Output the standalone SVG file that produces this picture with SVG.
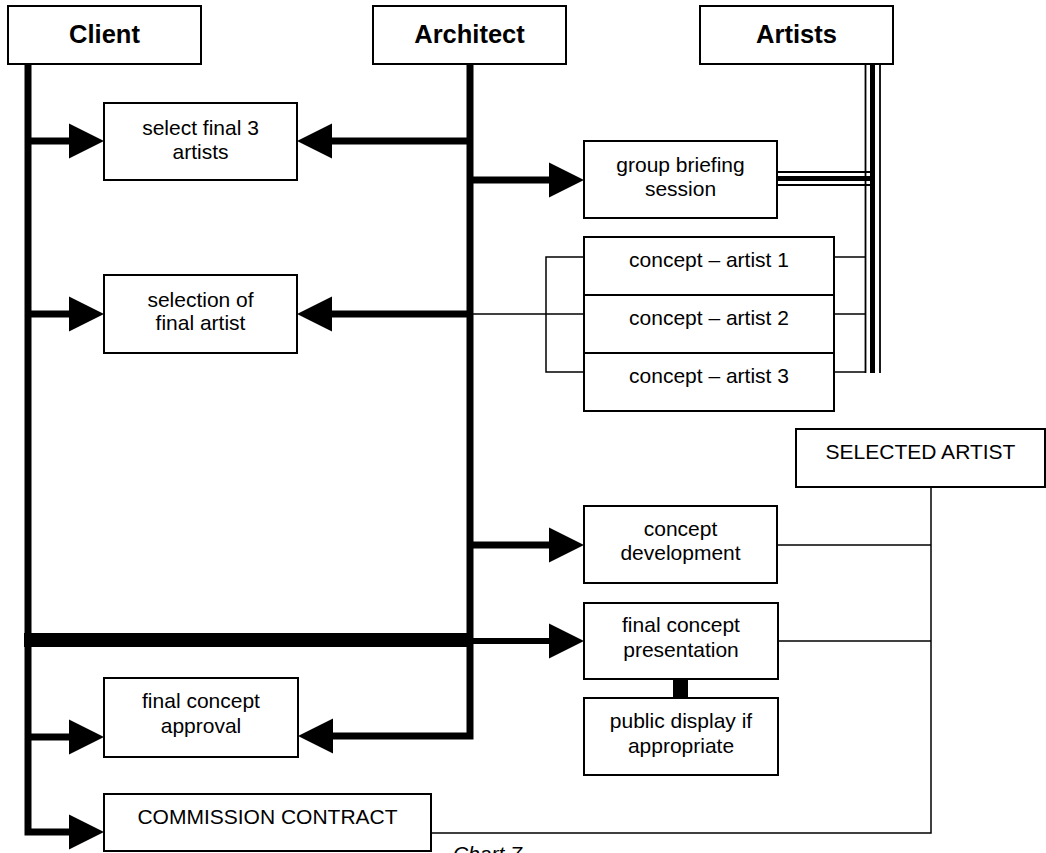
<svg xmlns="http://www.w3.org/2000/svg" width="1046" height="853" viewBox="0 0 1046 853">
<style>
.box{fill:#fff;stroke:#000;stroke-width:2}
.hd{font-family:"Liberation Sans",Arial,sans-serif;font-size:25.5px;font-weight:bold;text-anchor:middle;fill:#000}
.tx{font-family:"Liberation Sans",Arial,sans-serif;font-size:21px;text-anchor:middle;fill:#000}
.thick{fill:none;stroke:#000;stroke-width:7}
.thin{fill:none;stroke:#000;stroke-width:1.5}
.ah{fill:#000}
</style>
<defs>
<polygon id="arR" points="0,0 -35,-17.5 -35,17.5" class="ah"/>
<polygon id="arL" points="0,0 35,-17.5 35,17.5" class="ah"/>
</defs>
<g id="connectors">
<polyline class="thick" points="28,64 28,832 70,832"/>
<polyline class="thick" points="470,64 470,736 330,736"/>
<line class="thick" x1="28" y1="141" x2="70" y2="141"/>
<line class="thick" x1="28" y1="314" x2="70" y2="314"/>
<line class="thick" x1="28" y1="737" x2="70" y2="737"/>
<use href="#arR" x="104" y="141"/>
<use href="#arR" x="104" y="314"/>
<use href="#arR" x="104" y="737"/>
<use href="#arR" x="104" y="832"/>
<line class="thick" x1="470" y1="141" x2="330" y2="141"/>
<line class="thick" x1="470" y1="314" x2="330" y2="314"/>
<use href="#arL" x="297" y="141"/>
<use href="#arL" x="297" y="314"/>
<use href="#arL" x="298" y="736"/>
<line class="thick" x1="470" y1="180" x2="552" y2="180"/>
<line class="thick" x1="470" y1="545" x2="552" y2="545"/>
<line stroke="#000" stroke-width="6" x1="470" y1="641" x2="552" y2="641"/>
<use href="#arR" x="584" y="180"/>
<use href="#arR" x="584" y="545"/>
<use href="#arR" x="584" y="641"/>
<rect x="24" y="633" width="449" height="14" fill="#000"/>
<polyline class="thin" points="473,314 584,314"/>
<polyline class="thin" points="584,257 546,257 546,372 584,372"/>
<line class="thin" x1="834" y1="257" x2="866" y2="257"/>
<line class="thin" x1="834" y1="314" x2="866" y2="314"/>
<line class="thin" x1="834" y1="372" x2="866" y2="372"/>
<line stroke="#000" stroke-width="1.8" x1="865.5" y1="64" x2="865.5" y2="373"/>
<line stroke="#000" stroke-width="5" x1="872.5" y1="64" x2="872.5" y2="373"/>
<line stroke="#000" stroke-width="1.8" x1="880" y1="64" x2="880" y2="373"/>
<line stroke="#000" stroke-width="1.8" x1="777" y1="172" x2="872" y2="172"/>
<line stroke="#000" stroke-width="5" x1="777" y1="178.5" x2="872" y2="178.5"/>
<line stroke="#000" stroke-width="1.8" x1="777" y1="185" x2="872" y2="185"/>
<polyline class="thin" points="931,487 931,833 431,833"/>
<line class="thin" x1="777" y1="545" x2="931" y2="545"/>
<line class="thin" x1="778" y1="641" x2="931" y2="641"/>
<rect x="673" y="679" width="15" height="19" fill="#000"/>
</g>
<g id="client"><rect class="box" x="8" y="6" width="193" height="58"/><text class="hd" x="104.5" y="43">Client</text></g>
<g id="architect"><rect class="box" x="373" y="6" width="193" height="58"/><text class="hd" x="469.5" y="43">Architect</text></g>
<g id="artists"><rect class="box" x="700" y="6" width="193" height="58"/><text class="hd" x="796.5" y="43">Artists</text></g>
<g id="select3"><rect class="box" x="104" y="103" width="193" height="77"/><text class="tx" x="200.5" y="135">select final 3</text><text class="tx" x="200.5" y="159">artists</text></g>
<g id="briefing"><rect class="box" x="584" y="141" width="193" height="77"/><text class="tx" x="680.5" y="172">group briefing</text><text class="tx" x="680.5" y="196">session</text></g>
<g id="selectionfinal"><rect class="box" x="104" y="275" width="193" height="78"/><text class="tx" x="200.5" y="307">selection of</text><text class="tx" x="200.5" y="330">final artist</text></g>
<g id="concept1"><rect class="box" x="584" y="237" width="250" height="58"/><text class="tx" x="709" y="267">concept – artist 1</text></g>
<g id="concept2"><rect class="box" x="584" y="295" width="250" height="58"/><text class="tx" x="709" y="325">concept – artist 2</text></g>
<g id="concept3"><rect class="box" x="584" y="353" width="250" height="58"/><text class="tx" x="709" y="383">concept – artist 3</text></g>
<g id="selectedartist"><rect class="box" x="796" y="429" width="249" height="58"/><text class="tx" x="920.5" y="459">SELECTED ARTIST</text></g>
<g id="conceptdev"><rect class="box" x="584" y="506" width="193" height="77"/><text class="tx" x="680.5" y="536">concept</text><text class="tx" x="680.5" y="560">development</text></g>
<g id="finalpresentation"><rect class="box" x="584" y="603" width="194" height="76"/><text class="tx" x="681" y="632">final concept</text><text class="tx" x="681" y="657">presentation</text></g>
<g id="publicdisplay"><rect class="box" x="584" y="698" width="194" height="77"/><text class="tx" x="681" y="728">public display if</text><text class="tx" x="681" y="753">appropriate</text></g>
<g id="approval"><rect class="box" x="104" y="678" width="194" height="79"/><text class="tx" x="201" y="708">final concept</text><text class="tx" x="201" y="733">approval</text></g>
<g id="contract"><rect class="box" x="104" y="794" width="327" height="57"/><text class="tx" x="267.5" y="824">COMMISSION CONTRACT</text></g>
<text x="453" y="861" font-family="'Liberation Sans',Arial,sans-serif" font-size="21" font-style="italic" fill="#000">Chart 7</text>
</svg>
